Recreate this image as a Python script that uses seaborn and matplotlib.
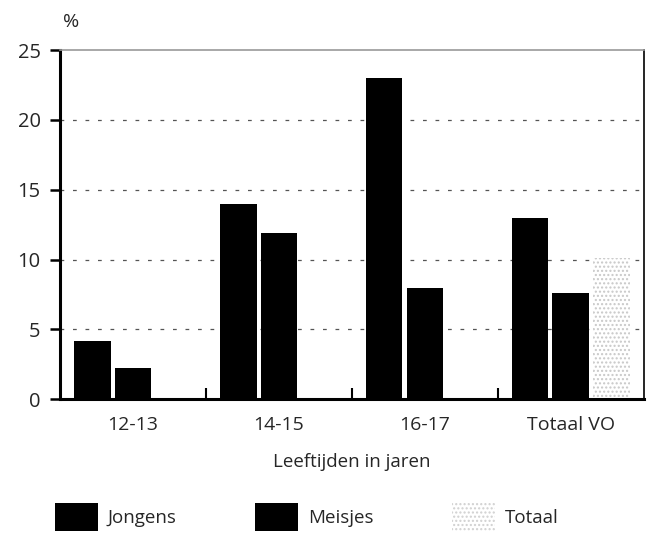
import numpy as np
import pandas as pd
import matplotlib
matplotlib.use("Agg")
import matplotlib.pyplot as plt
from matplotlib.patches import Patch
import seaborn as sns

# ------------------------------------------------------------
# data
# ------------------------------------------------------------
groepen = ["12-13", "14-15", "16-17", "Totaal VO"]
jongens = [4.2, 14.0, 23.0, 13.0]
meisjes = [2.2, 11.9, 8.0, 7.6]
totaal = [np.nan, np.nan, np.nan, 10.1]
reeksen = ["Jongens", "Meisjes", "Totaal"]

df = pd.DataFrame({
    "groep": groepen * 3,
    "reeks": [r for r in reeksen for _ in groepen],
    "waarde": jongens + meisjes + totaal,
})

sns.set_theme(style="white")
plt.rcParams["font.family"] = ["Open Sans", "DejaVu Sans"]

fig = plt.figure(figsize=(6.53, 5.33), dpi=100)
ax = fig.add_axes([0.092, 0.251, 0.894, 0.655])

kleuren = {"Jongens": "black", "Meisjes": "black", "Totaal": "white"}
sns.barplot(
    data=df, x="groep", y="waarde", hue="reeks",
    order=groepen, hue_order=reeksen, palette=kleuren,
    width=0.84, gap=0.1, errorbar=None, legend=False, ax=ax,
    edgecolor="none",
)

# stippled "Totaal" bar
for bar in ax.containers[2]:
    bar.set_hatch("....")
    bar.set_edgecolor("#c8c8c8")
    bar.set_linewidth(0)

ax.set_ylim(0, 25)
ax.set_xlim(-0.5, 3.5)
ax.set_yticks([0, 5, 10, 15, 20, 25])
for y in [5, 10, 15, 20]:
    ax.axhline(y, color="#555555", lw=0.9, ls=(0, (3, 7)), zorder=0)

ax.spines["left"].set_linewidth(2.2)
ax.spines["left"].set_color("black")
ax.spines["bottom"].set_linewidth(2.2)
ax.spines["bottom"].set_color("black")
ax.spines["right"].set_linewidth(1.2)
ax.spines["right"].set_color("black")
ax.spines["top"].set_linewidth(1.2)
ax.spines["top"].set_color("#999999")

ax.tick_params(axis="y", left=True, length=7, width=1.8, color="black",
               labelsize=14.5, pad=7)
ax.tick_params(axis="x", bottom=False, labelsize=14, pad=6)
ax.set_xticks([0.5, 1.5, 2.5], minor=True)
ax.tick_params(axis="x", which="minor", bottom=True, direction="in",
               length=8, width=1.5, color="black")

ax.set_ylabel("")
ax.set_xlabel("Leeftijden in jaren", fontsize=13.5, labelpad=14)
ax.text(0.005, 1.055, "%", transform=ax.transAxes, fontsize=14,
        ha="left", va="bottom")

handles = [
    Patch(facecolor="black", edgecolor="none", label="Jongens"),
    Patch(facecolor="black", edgecolor="none", label="Meisjes"),
    Patch(facecolor="white", edgecolor="#d0d0d0", hatch="....", lw=0,
          label="Totaal"),
]
fig.legend(handles=handles, loc="center left", bbox_to_anchor=(0.07, 0.03),
           ncol=3, frameon=False, fontsize=13.5, handlelength=2.3,
           handleheight=2.0, columnspacing=4.2, handletextpad=0.5,
           borderpad=0.0)

fig.savefig("out.png", dpi=100)
